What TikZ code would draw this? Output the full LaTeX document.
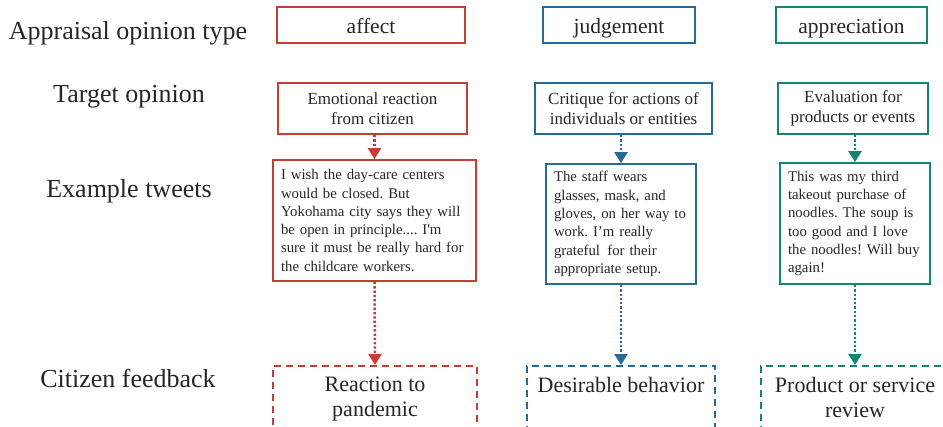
\documentclass[tikz,border=0pt]{standalone}
\usepackage{fontspec}
\setmainfont{Liberation Serif}
\usetikzlibrary{arrows.meta}

\definecolor{affectred}{RGB}{197,62,50}
\definecolor{judgeblue}{RGB}{38,106,152}
\definecolor{apprteal}{RGB}{22,133,112}
\definecolor{ink}{RGB}{38,38,38}

\frenchspacing

\tikzset{
  rowlabel/.style={font=\fontsize{26}{30}\selectfont, text=ink, inner sep=0, anchor=base},
  typebox/.style={draw=#1, line width=1.8pt, inner sep=0, text=ink,
    font=\fontsize{21.5}{26}\selectfont, text height=18pt, text depth=1.7pt},
  targetbox/.style={draw=#1, line width=1.8pt, inner sep=0, align=center, text=ink,
    font=\fontsize{17}{20}\selectfont},
  tweetbox/.style={draw=#1, line width=1.8pt, inner xsep=8pt, inner ysep=0, align=left,
    text=ink, font=\fontsize{14.8}{18.3}\selectfont},
  feedbox/.style={draw=#1, line width=1.8pt, dash pattern=on 7pt off 5pt, inner sep=0,
    anchor=north},
  feedtext/.style={align=center, text=ink, inner sep=0, anchor=north,
    font=\fontsize{22}{25}\selectfont},
  flow/.style={draw=#1, line width=2.5pt, dash pattern=on 2.3pt off 2pt,
    -{Triangle[width=13pt,length=11pt]}},
}

\begin{document}
\begin{tikzpicture}[x=1pt, y=-1pt]
  \useasboundingbox (0,0) rectangle (943,426);
  \clip (0,0) rectangle (943,426);

  % row labels
  \node[rowlabel] (lab1) at (128,39)  {Appraisal opinion type};
  \node[rowlabel] (lab2) at (129,102) {Target opinion};
  \node[rowlabel] (lab3) at (129,197) {Example tweets};
  \node[rowlabel] (lab4) at (128,387) {Citizen feedback};

  % affect column
  \node[typebox=affectred, minimum width=188pt, minimum height=36pt] (affT) at (371,25) {affect};
  \node[targetbox=affectred, minimum width=189pt, minimum height=51pt] (affO) at (372.5,108.5)
    {Emotional reaction\\from citizen};
  \node[tweetbox=affectred, text width=187pt, minimum height=121pt] (affE) at (374.5,220.5)
    {I wish the day-care centers\\
     would be closed. But\\
     Yokohama city says they will\\
     be open in principle.... I\textquotesingle m\\
     sure it must be really hard for\\
     the childcare workers.};
  \node[feedbox=affectred, minimum width=204pt, minimum height=80pt] (affF) at (375,365) {};
  \node[feedtext] (affFt) at ([yshift=-12pt]affF.north) {Reaction to\\pandemic};

  % judgement column
  \node[typebox=judgeblue, minimum width=152pt, minimum height=36pt] (judT) at (619,25) {judgement};
  \node[targetbox=judgeblue, minimum width=177pt, minimum height=51pt] (judO) at (623.5,108.5)
    {Critique for actions of\\individuals or entities};
  \node[tweetbox=judgeblue, text width=134pt, minimum height=120pt] (judE) at (621,224)
    {The staff wears\\
     glasses, mask, and\\
     gloves, on her way to\\
     work. I’m really\\
     grateful\, for their\\
     appropriate setup.};
  \node[feedbox=judgeblue, minimum width=188pt, minimum height=80pt] (judF) at (621,365) {};
  \node[feedtext] (judFt) at ([yshift=-12pt]judF.north) {Desirable behavior};

  % appreciation column
  \node[typebox=apprteal, minimum width=151pt, minimum height=36pt] (appT) at (851.5,25) {appreciation};
  \node[targetbox=apprteal, minimum width=150pt, minimum height=51pt] (appO) at (853,108.5)
    {Evaluation for\\products or events};
  \node[tweetbox=apprteal, text width=134pt, minimum height=121pt] (appE) at (855,223.5)
    {This was my third\\
     takeout purchase of\\
     noodles. The soup is\\
     too good and I love\\
     the noodles! Will buy\\
     again!};
  \node[feedbox=apprteal, minimum width=188pt, minimum height=80pt] (appF) at (855,365) {};
  \node[feedtext] (appFt) at ([yshift=-12pt]appF.north) {Product or service\\review};

  % connectors
  \draw[flow=affectred] (affE.north |- affO.south) -- (affE.north);
  \draw[flow=affectred] (affE.south) -- (affF.north);
  \draw[flow=judgeblue] (judE.north |- judO.south) -- (judE.north);
  \draw[flow=judgeblue] (judE.south) -- (judF.north);
  \draw[flow=apprteal] (appE.north |- appO.south) -- (appE.north);
  \draw[flow=apprteal] (appE.south) -- (appF.north);
\end{tikzpicture}
\end{document}
